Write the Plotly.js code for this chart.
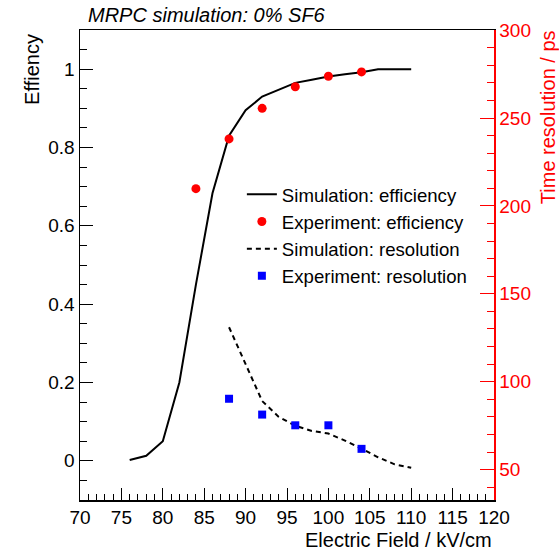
<!DOCTYPE html>
<html>
<head>
<meta charset="utf-8">
<script src="https://cdn.plot.ly/plotly-3.0.1.min.js"></script>
<style>
  html, body { margin: 0; padding: 0; background: #ffffff; }
  #chart { width: 559px; height: 555px; }
</style>
</head>
<body>
<div id="chart"></div>
<script>
// ---- Data ----
const simEffField = [76, 78, 80, 82, 84, 86, 88, 90, 92, 94, 96, 98, 100, 102, 104, 106, 108, 110];
const simEff      = [0.002, 0.013, 0.05, 0.2, 0.45, 0.683, 0.83, 0.895, 0.93, 0.948, 0.965, 0.973, 0.981, 0.987, 0.992, 1.0, 1.0, 1.0];

const expEffField = [84, 88, 92, 96, 100, 104];
const expEff      = [0.695, 0.822, 0.90, 0.955, 0.982, 0.993];

const simResField = [88, 90, 92, 94, 96, 98, 100, 102, 104, 106, 108, 110];
const simRes      = [131, 110, 89, 80, 75, 72, 70.5, 66.5, 62, 57, 53, 51];

const expResField = [88, 92, 96, 100, 104];
const expRes      = [90.3, 81.3, 75.2, 75.2, 61.8];

const chartTitle = "MRPC simulation: 0% SF6";
const xTitle = "Electric Field / kV/cm";
const yTitle = "Effiency";
const y2Title = "Time resolution / ps";
const seriesNames = ["Simulation: efficiency", "Experiment: efficiency", "Simulation: resolution", "Experiment: resolution"];

// ---- Styles ----
const FONT = "Liberation Sans, Arial, Helvetica, sans-serif";
const RED = "#ff0000";

const traces = [
  {
    x: simEffField, y: simEff, name: seriesNames[0], type: "scatter", mode: "lines",
    line: { color: "#000000", width: 2 }, yaxis: "y"
  },
  {
    x: expEffField, y: expEff, name: seriesNames[1], type: "scatter", mode: "markers",
    marker: { color: RED, symbol: "circle", size: 9 }, yaxis: "y"
  },
  {
    x: simResField, y: simRes, name: seriesNames[2], type: "scatter", mode: "lines",
    line: { color: "#000000", width: 2, dash: "5px,4px" }, yaxis: "y2"
  },
  {
    x: expResField, y: expRes, name: seriesNames[3], type: "scatter", mode: "markers",
    marker: { color: "#0000ff", symbol: "square", size: 8 }, yaxis: "y2"
  }
];

const layout = {
  width: 559, height: 555,
  margin: { l: 80, r: 65, t: 30, b: 55, pad: 0 },
  paper_bgcolor: "#ffffff", plot_bgcolor: "#ffffff",
  font: { family: FONT, color: "#000000" },
  title: {
    text: chartTitle,
    font: { family: FONT, size: 20, style: "italic", color: "#000000" },
    x: 88 / 559, xanchor: "left", xref: "container",
    y: 1 - 15 / 555, yanchor: "middle", yref: "container"
  },
  showlegend: true,
  legend: {
    x: 0.391, xanchor: "left", y: 0.690, yanchor: "top",
    bgcolor: "rgba(0,0,0,0)", borderwidth: 0,
    font: { family: FONT, size: 18.6, color: "#000000" }
  },
  xaxis: {
    range: [70, 120], tick0: 70, dtick: 5, tickmode: "linear",
    ticks: "inside", ticklen: 12, tickwidth: 1, tickcolor: "#000000",
    minor: { dtick: 1, tick0: 70, ticks: "inside", ticklen: 6, tickwidth: 1, tickcolor: "#000000", showgrid: false },
    showline: true, linecolor: "#000000", linewidth: 1.5, mirror: true,
    showgrid: false, zeroline: false,
    tickfont: { family: FONT, size: 19, color: "#000000" }
  },
  yaxis: {
    range: [-0.1, 1.1], tick0: 0, dtick: 0.2, tickmode: "linear",
    ticks: "inside", ticklen: 13, tickwidth: 1, tickcolor: "#000000",
    minor: { dtick: 0.05, tick0: 0, ticks: "inside", ticklen: 7, tickwidth: 1, tickcolor: "#000000", showgrid: false },
    showline: true, linecolor: "#000000", linewidth: 1.5, mirror: false,
    showgrid: false, zeroline: false,
    tickfont: { family: FONT, size: 19, color: "#000000" }
  },
  yaxis2: {
    overlaying: "y", side: "right", anchor: "x",
    range: [32.7, 300.1], tick0: 0, dtick: 50, tickmode: "linear",
    ticks: "inside", ticklen: 14, tickwidth: 1, tickcolor: RED,
    minor: { dtick: 10, tick0: 0, ticks: "inside", ticklen: 7, tickwidth: 1, tickcolor: RED, showgrid: false },
    showline: true, linecolor: RED, linewidth: 1.5,
    showgrid: false, zeroline: false,
    tickfont: { family: FONT, size: 19, color: RED }
  },
  annotations: [
    {
      text: yTitle, xref: "paper", yref: "paper",
      x: (32.5 - 80) / 414, y: (500.2 - 31.7) / 470.4,
      xanchor: "center", yanchor: "top", textangle: -90, showarrow: false,
      font: { family: FONT, size: 20, color: "#000000" }
    },
    {
      text: y2Title, xref: "paper", yref: "paper",
      x: (548 - 80) / 414, y: (500.2 - 28) / 470.4,
      xanchor: "center", yanchor: "top", textangle: -90, showarrow: false,
      font: { family: FONT, size: 20, color: RED }
    },
    {
      text: xTitle, xref: "paper", yref: "paper",
      x: 1, y: (500.2 - 540) / 470.4,
      xanchor: "right", yanchor: "middle", showarrow: false,
      font: { family: FONT, size: 20, color: "#000000" }
    }
  ]
};

Plotly.newPlot("chart", traces, layout, { displayModeBar: false, staticPlot: true });
</script>
</body>
</html>
